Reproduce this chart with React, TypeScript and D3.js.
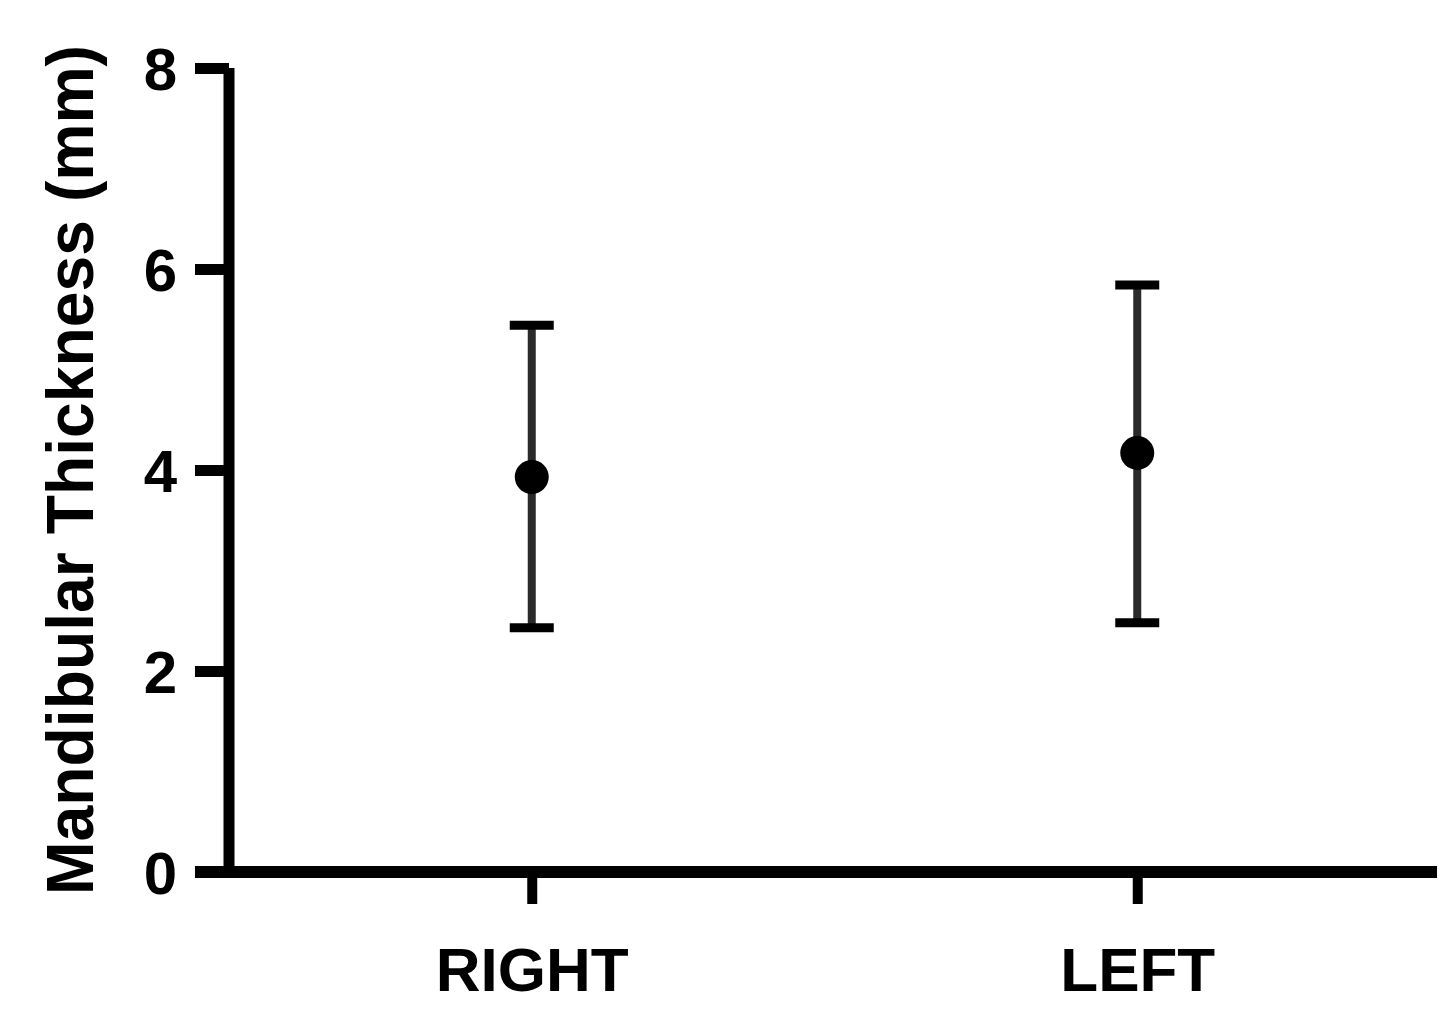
import * as d3 from "d3";
import React, { useRef, useEffect } from "react";

const sides: string[] = ["RIGHT", "LEFT"];
const means: number[] = [3.93, 4.17];
const upper: number[] = [5.44, 5.84];
const lower: number[] = [2.43, 2.48];
const yTicks: number[] = [0, 2, 4, 6, 8];

const Chart: React.FC = () => {
  const svgRef = useRef<SVGSVGElement>(null);

  useEffect(() => {
    const svg = d3.select(svgRef.current);
    svg.selectAll("*").remove();

    const width = 1449;
    const height = 1020;
    const axisX = 229;
    const marginTop = 68;
    const axisY = 872;
    const rightEnd = 1440;
    const font = "'Liberation Sans', Arial, sans-serif";

    svg.attr("width", width)
      .attr("height", height)
      .attr("viewBox", `0 0 ${width} ${height}`)
      .style("position", "absolute")
      .style("left", "0px")
      .style("top", "0px")
      .style("background", "white");

    const x = d3.scalePoint<string>()
      .domain(sides)
      .range([axisX, rightEnd])
      .padding(0.5);

    const y = d3.scaleLinear()
      .domain([0, 8])
      .range([axisY, marginTop]);

    const rows = sides.map((s, i) => ({ side: s, mean: means[i], hi: upper[i], lo: lower[i] }));

    // y axis
    svg.append("g")
      .attr("transform", `translate(${axisX},0)`)
      .call(d3.axisLeft(y).tickValues(yTicks).tickSize(34).tickPadding(18).tickFormat(d3.format("d")))
      .call(g => g.select(".domain")
        .attr("d", `M0,${y(8)}V${axisY}`)
        .attr("stroke", "#000")
        .attr("stroke-width", 11))
      .call(g => g.selectAll(".tick line").attr("stroke", "#000").attr("stroke-width", 11))
      .call(g => g.selectAll(".tick text")
        .attr("fill", "#000")
        .attr("font-family", font)
        .attr("font-weight", "bold")
        .attr("font-size", 60)
        .attr("dy", "0.36em"));

    // x axis
    svg.append("g")
      .attr("transform", `translate(0,${axisY})`)
      .call(d3.axisBottom(x).tickSize(32).tickPadding(42))
      .call(g => g.select(".domain")
        .attr("d", `M195,0H${rightEnd - 3}`)
        .attr("stroke", "#000")
        .attr("stroke-width", 12))
      .call(g => g.selectAll(".tick line").attr("stroke", "#000").attr("stroke-width", 10))
      .call(g => g.selectAll(".tick text")
        .attr("fill", "#000")
        .attr("font-family", font)
        .attr("font-weight", "bold")
        .attr("font-size", 62)
        .attr("dy", "0.72em"));

    // y axis title
    svg.append("text")
      .attr("transform", `translate(93,470) rotate(-90)`)
      .attr("text-anchor", "middle")
      .attr("font-family", font)
      .attr("font-weight", "bold")
      .attr("font-size", 66)
      .attr("textLength", 850)
      .attr("lengthAdjust", "spacingAndGlyphs")
      .attr("fill", "#000")
      .text("Mandibular Thickness (mm)");

    // error bars
    const bars = svg.append("g");
    bars.selectAll("line.whisker")
      .data(rows)
      .join("line")
      .attr("class", "whisker")
      .attr("x1", d => x(d.side)!)
      .attr("x2", d => x(d.side)!)
      .attr("y1", d => y(d.hi))
      .attr("y2", d => y(d.lo))
      .attr("stroke", "#2a2a2a")
      .attr("stroke-width", 8);

    bars.selectAll("line.cap")
      .data(rows.flatMap(d => [{ side: d.side, v: d.hi }, { side: d.side, v: d.lo }]))
      .join("line")
      .attr("class", "cap")
      .attr("x1", d => x(d.side)! - 22)
      .attr("x2", d => x(d.side)! + 22)
      .attr("y1", d => y(d.v))
      .attr("y2", d => y(d.v))
      .attr("stroke", "#000")
      .attr("stroke-width", 9);

    bars.selectAll("circle")
      .data(rows)
      .join("circle")
      .attr("cx", d => x(d.side)!)
      .attr("cy", d => y(d.mean))
      .attr("r", 17)
      .attr("fill", "#000");
  }, []);

  return <svg ref={svgRef}></svg>;
};

export default function App() {
  return <Chart />;
}
